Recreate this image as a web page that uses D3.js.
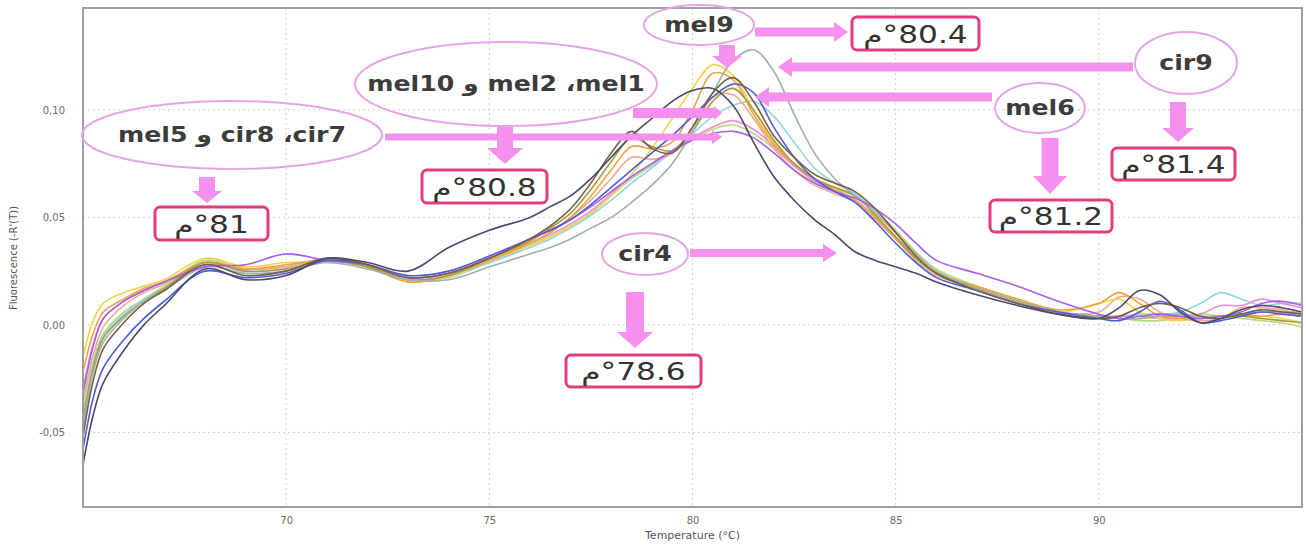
<!DOCTYPE html>
<html>
<head>
<meta charset="utf-8">
<script src="https://cdn.jsdelivr.net/npm/d3@7/dist/d3.min.js"></script>
<style>
  html, body { margin: 0; padding: 0; background: #fff; }
  svg { display: block; }
</style>
</head>
<body>
<svg id="chart" width="1306" height="547"></svg>
<script>
// Melt-curve derivative data: temperature grid (°C) and -R'(T) per sample
const temps = [65, 65.25, 65.5, 66, 66.5, 67, 68, 69, 70, 71, 72, 73, 74, 75, 76, 76.5, 77, 77.5, 78, 78.5, 79, 79.5, 80, 80.5, 81, 81.5, 82, 82.5, 83, 83.5, 84, 84.5, 85, 85.5, 86, 87, 88, 89, 90, 90.5, 91, 91.5, 92, 92.5, 93, 93.5, 94, 94.5, 95];

const lightgreenSeries = [-0.040, -0.017, -0.004, 0.006, 0.012, 0.018,
  0.030, 0.026, 0.027, 0.030, 0.027, 0.021, 0.022, 0.029,
  0.037, 0.041, 0.046, 0.052, 0.060, 0.068, 0.074, 0.080, 0.086, 0.091, 0.093, 0.089, 0.082, 0.074, 0.067, 0.063, 0.060, 0.053, 0.044, 0.034, 0.026,
  0.018, 0.012, 0.006, 0.004, 0.003, 0.002, 0.002, 0.003, 0.005, 0.004, 0.003, 0.002, 0.001, -0.001];
const cyanSeries = [-0.044, -0.019, -0.005, 0.005, 0.012, 0.017,
  0.028, 0.025, 0.026, 0.030, 0.027, 0.022, 0.023, 0.029,
  0.036, 0.040, 0.045, 0.051, 0.058, 0.066, 0.073, 0.081, 0.089, 0.097, 0.102, 0.104, 0.097, 0.085, 0.073, 0.066, 0.061, 0.053, 0.043, 0.033, 0.025,
  0.017, 0.011, 0.006, 0.004, 0.004, 0.005, 0.005, 0.006, 0.010, 0.015, 0.012, 0.009, 0.010, 0.010];
const pinkSeries = [-0.030, -0.009, 0.003, 0.011, 0.016, 0.020,
  0.028, 0.026, 0.027, 0.031, 0.028, 0.022, 0.024, 0.031,
  0.038, 0.042, 0.047, 0.053, 0.061, 0.069, 0.075, 0.081, 0.087, 0.092, 0.095, 0.091, 0.083, 0.074, 0.067, 0.062, 0.058, 0.050, 0.041, 0.031, 0.024,
  0.017, 0.011, 0.006, 0.004, 0.004, 0.004, 0.003, 0.003, 0.005, 0.009, 0.009, 0.012, 0.010, 0.008];
const salmonSeries = [-0.036, -0.014, -0.001, 0.009, 0.015, 0.019,
  0.029, 0.026, 0.027, 0.031, 0.028, 0.021, 0.023, 0.030,
  0.038, 0.043, 0.050, 0.058, 0.068, 0.078, 0.077, 0.080, 0.092, 0.106, 0.107, 0.096, 0.082, 0.072, 0.065, 0.061, 0.057, 0.049, 0.040, 0.030, 0.023,
  0.017, 0.011, 0.006, 0.006, 0.013, 0.012, 0.006, 0.003, 0.002, 0.003, 0.008, 0.008, 0.007, 0.005];
const yellowSeries = [-0.015, 0.002, 0.010, 0.015, 0.018, 0.021,
  0.031, 0.027, 0.029, 0.029, 0.027, 0.020, 0.023, 0.030,
  0.037, 0.041, 0.046, 0.052, 0.060, 0.070, 0.082, 0.096, 0.110, 0.121, 0.116, 0.100, 0.085, 0.075, 0.068, 0.064, 0.060, 0.052, 0.043, 0.033, 0.025,
  0.017, 0.011, 0.006, 0.010, 0.012, 0.006, 0.003, 0.002, 0.003, 0.004, 0.004, 0.004, 0.003, 0.001];
const orangeSeries = [-0.022, -0.004, 0.006, 0.012, 0.017, 0.020,
  0.029, 0.026, 0.028, 0.030, 0.027, 0.020, 0.023, 0.030,
  0.038, 0.043, 0.050, 0.060, 0.072, 0.083, 0.082, 0.085, 0.100, 0.117, 0.114, 0.098, 0.084, 0.075, 0.068, 0.063, 0.058, 0.050, 0.040, 0.031, 0.024,
  0.018, 0.012, 0.007, 0.010, 0.015, 0.010, 0.004, 0.003, 0.003, 0.004, 0.005, 0.004, 0.005, 0.004];
const oliveSeries = [-0.045, -0.020, -0.006, 0.004, 0.011, 0.017,
  0.029, 0.025, 0.026, 0.030, 0.027, 0.021, 0.023, 0.031,
  0.039, 0.045, 0.052, 0.063, 0.076, 0.087, 0.083, 0.081, 0.090, 0.104, 0.110, 0.100, 0.086, 0.075, 0.068, 0.064, 0.060, 0.051, 0.041, 0.031, 0.024,
  0.017, 0.011, 0.006, 0.004, 0.003, 0.003, 0.004, 0.004, 0.003, 0.004, 0.004, 0.003, 0.002, 0.001];
const graygreenSeries = [-0.048, -0.022, -0.008, 0.003, 0.011, 0.016,
  0.027, 0.024, 0.025, 0.029, 0.026, 0.021, 0.021, 0.027,
  0.033, 0.036, 0.040, 0.045, 0.050, 0.057, 0.065, 0.075, 0.090, 0.108, 0.123, 0.128, 0.118, 0.098, 0.080, 0.068, 0.060, 0.052, 0.043, 0.033, 0.025,
  0.017, 0.011, 0.006, 0.004, 0.003, 0.003, 0.004, 0.005, 0.004, 0.004, 0.005, 0.006, 0.006, 0.006];
const purpleSeries = [-0.032, -0.010, 0.003, 0.011, 0.016, 0.020,
  0.027, 0.028, 0.033, 0.030, 0.028, 0.022, 0.024, 0.031,
  0.040, 0.044, 0.049, 0.055, 0.062, 0.069, 0.075, 0.081, 0.086, 0.089, 0.090, 0.087, 0.080, 0.072, 0.066, 0.062, 0.059, 0.054, 0.047, 0.038, 0.030,
  0.024, 0.018, 0.011, 0.005, 0.003, 0.004, 0.005, 0.004, 0.003, 0.004, 0.006, 0.010, 0.011, 0.009];
const blueSeries = [-0.058, -0.034, -0.020, -0.007, 0.003, 0.011,
  0.025, 0.022, 0.024, 0.030, 0.028, 0.023, 0.025, 0.032,
  0.040, 0.044, 0.049, 0.056, 0.064, 0.072, 0.080, 0.088, 0.097, 0.106, 0.112, 0.108, 0.092, 0.078, 0.068, 0.062, 0.057, 0.048, 0.038, 0.029, 0.022,
  0.016, 0.010, 0.006, 0.003, 0.002, 0.006, 0.011, 0.007, 0.001, 0.002, 0.004, 0.006, 0.005, 0.004];
const brownSeries = [-0.052, -0.026, -0.011, 0.001, 0.010, 0.016,
  0.028, 0.023, 0.025, 0.031, 0.028, 0.022, 0.024, 0.031,
  0.040, 0.046, 0.054, 0.066, 0.080, 0.090, 0.082, 0.080, 0.092, 0.108, 0.115, 0.104, 0.088, 0.078, 0.070, 0.066, 0.062, 0.054, 0.043, 0.032, 0.024,
  0.016, 0.010, 0.005, 0.003, 0.004, 0.008, 0.010, 0.008, 0.004, 0.003, 0.005, 0.007, 0.006, 0.005];
const navySeries = [-0.065, -0.042, -0.027, -0.012, 0.000, 0.009,
  0.026, 0.021, 0.023, 0.031, 0.029, 0.025, 0.036, 0.044,
  0.050, 0.055, 0.060, 0.068, 0.078, 0.088, 0.096, 0.104, 0.109, 0.110, 0.102, 0.085, 0.069, 0.058, 0.049, 0.042, 0.034, 0.030, 0.027, 0.024, 0.020,
  0.014, 0.009, 0.005, 0.003, 0.008, 0.016, 0.014, 0.006, 0.001, 0.003, 0.007, 0.009, 0.008, 0.006];

// Axis ticks
const xTicks = [70, 75, 80, 85, 90];
const yTicks = [-0.05, 0.00, 0.05, 0.10];

// Sample groups and their melting temperatures (°C); RLM keeps the Arabic comma and
// the degree sign attached to the right-to-left run
const RLM = "\u200F";
const groupLabels = ["cir7" + RLM + "، cir8 و mel5", "mel1" + RLM + "، mel2 و mel10", "mel9", "cir9", "mel6", "cir4"];
const tmValues = [81, 80.8, 80.4, 81.4, 81.2, 78.6];

const seriesList = [
  { values: lightgreenSeries, color: "#b6dc80" },
  { values: cyanSeries, color: "#92d4e4" },
  { values: pinkSeries, color: "#f08cd6" },
  { values: salmonSeries, color: "#f2a98e" },
  { values: yellowSeries, color: "#f0d24c" },
  { values: orangeSeries, color: "#f0a33e" },
  { values: oliveSeries, color: "#a89c40" },
  { values: graygreenSeries, color: "#9fb1a8" },
  { values: purpleSeries, color: "#a65ef0" },
  { values: blueSeries, color: "#4c5ed6" },
  { values: brownSeries, color: "#7a5d45" },
  { values: navySeries, color: "#474b6e" }
];

const svg = d3.select("#chart");
const plot = { left: 83, top: 8, right: 1302, bottom: 507 };

const x = d3.scaleLinear().domain([65, 95]).range([plot.left, plot.right]);
const y = d3.scaleLinear().domain([-0.0847, 0.1474]).range([plot.bottom, plot.top]);

svg.append("defs").append("clipPath").attr("id", "plotClip")
  .append("rect")
  .attr("x", plot.left).attr("y", plot.top)
  .attr("width", plot.right - plot.left).attr("height", plot.bottom - plot.top);

// Grid lines
const grid = svg.append("g").attr("class", "grid");
grid.selectAll("line.vx").data(xTicks).join("line")
  .attr("x1", d => x(d)).attr("x2", d => x(d))
  .attr("y1", plot.top).attr("y2", plot.bottom)
  .attr("stroke", "#cfcfcf").attr("stroke-width", 1).attr("stroke-dasharray", "2,3");
grid.selectAll("line.hy").data(yTicks).join("line")
  .attr("x1", plot.left).attr("x2", plot.right)
  .attr("y1", d => y(d)).attr("y2", d => y(d))
  .attr("stroke", "#cfcfcf").attr("stroke-width", 1).attr("stroke-dasharray", "2,3");

// Axes (labels only, frame drawn separately)
const fmt = v => d3.format(".2f")(v).replace(".", ",").replace("\u2212", "-");
const xAxis = d3.axisBottom(x).tickValues(xTicks).tickSize(0).tickPadding(10).tickFormat(d3.format("d"));
const yAxis = d3.axisLeft(y).tickValues(yTicks).tickSize(0).tickPadding(18).tickFormat(fmt);

const gx = svg.append("g").attr("transform", `translate(0,${plot.bottom})`).call(xAxis);
const gy = svg.append("g").attr("transform", `translate(${plot.left},0)`).call(yAxis);
[gx, gy].forEach(g => {
  g.select(".domain").remove();
  g.selectAll("text").attr("fill", "#6a6a6a").attr("font-size", 10)
    .attr("font-family", "'DejaVu Sans', sans-serif");
});

// Curves
const line = d3.line()
  .x((d, i) => x(temps[i]))
  .y(d => y(d))
  .curve(d3.curveCatmullRom.alpha(0.5));

svg.append("g").attr("clip-path", "url(#plotClip)")
  .selectAll("path").data(seriesList).join("path")
  .attr("d", s => line(s.values))
  .attr("fill", "none")
  .attr("stroke", s => s.color)
  .attr("stroke-width", 1.6)
  .attr("stroke-linejoin", "round");

// Frame
svg.append("rect")
  .attr("x", plot.left).attr("y", plot.top)
  .attr("width", plot.right - plot.left).attr("height", plot.bottom - plot.top)
  .attr("fill", "none").attr("stroke", "#a0a0a0").attr("stroke-width", 2);

// Axis titles
svg.append("text")
  .attr("x", x(80)).attr("y", 539)
  .attr("text-anchor", "middle")
  .attr("font-family", "'DejaVu Sans', sans-serif").attr("font-size", 11)
  .attr("fill", "#555")
  .text("Temperature (°C)");
svg.append("text")
  .attr("transform", "translate(17,258) rotate(-90)")
  .attr("text-anchor", "middle")
  .attr("font-family", "'DejaVu Sans', sans-serif").attr("font-size", 10)
  .attr("fill", "#555")
  .text("Fluorescence (-R'(T))");

// Annotation layer
const ann = svg.append("g").attr("class", "annotations");
const arrowColor = "#f590ee";

function fatArrow(x1, y1, x2, y2, w, hw, hl) {
  const dx = x2 - x1, dy = y2 - y1;
  const len = Math.hypot(dx, dy);
  const ux = dx / len, uy = dy / len;
  const px = -uy, py = ux;
  const bx = x2 - ux * hl, by = y2 - uy * hl;
  const pts = [
    [x1 + px * w / 2, y1 + py * w / 2],
    [bx + px * w / 2, by + py * w / 2],
    [bx + px * hw / 2, by + py * hw / 2],
    [x2, y2],
    [bx - px * hw / 2, by - py * hw / 2],
    [bx - px * w / 2, by - py * w / 2],
    [x1 - px * w / 2, y1 - py * w / 2]
  ];
  ann.append("polygon")
    .attr("points", pts.map(p => p.join(",")).join(" "))
    .attr("fill", arrowColor);
}

// group ellipses: [cx, cy, rx, ry]
const ellipses = [
  [232, 135, 150, 34],
  [506, 84, 151, 42],
  [699, 25, 55, 20],
  [1186, 63, 51, 31],
  [1040, 108, 45, 25],
  [645, 254, 43, 21]
];
// Tm boxes: [x, y, w, h]
const boxes = [
  [155, 207, 113, 33],
  [422, 170, 125, 33],
  [852, 17, 127, 33],
  [1112, 148, 123, 32],
  [990, 200, 122, 32],
  [566, 355, 135, 32]
];

// arrows: x1, y1, x2, y2, shaft width, head width, head length
fatArrow(385, 137, 722, 137, 7, 14, 10);
fatArrow(207, 177, 207, 203, 16, 30, 12);
fatArrow(633, 113, 722, 113, 10, 14, 8);
fatArrow(505, 127, 505, 164, 16, 36, 16);
fatArrow(755, 32, 848, 32, 9, 20, 14);
fatArrow(727, 45, 727, 68, 16, 30, 12);
fatArrow(1133, 67, 778, 67, 9, 20, 14);
fatArrow(1178, 102, 1178, 142, 16, 32, 14);
fatArrow(992, 97, 755, 97, 9, 20, 14);
fatArrow(1050, 138, 1050, 194, 17, 34, 18);
fatArrow(690, 253, 837, 253, 8, 18, 14);
fatArrow(635, 292, 635, 348, 18, 36, 16);

ann.selectAll("ellipse").data(ellipses).join("ellipse")
  .attr("cx", d => d[0]).attr("cy", d => d[1])
  .attr("rx", d => d[2]).attr("ry", d => d[3])
  .attr("fill", "none").attr("stroke", "#e7a3e7").attr("stroke-width", 2);

ann.selectAll("text.group").data(groupLabels).join("text")
  .attr("class", "group")
  .attr("transform", (d, i) => `translate(${ellipses[i][0]},${ellipses[i][1] + 7}) scale(1.2,1)`)
  .attr("text-anchor", "middle")
  .attr("direction", "rtl")
  .attr("font-family", "'DejaVu Sans', sans-serif")
  .attr("font-weight", "bold")
  .attr("font-size", 21)
  .attr("fill", "#3c3c3c")
  .text(d => d);

ann.selectAll("rect.tm").data(boxes).join("rect")
  .attr("class", "tm")
  .attr("x", d => d[0]).attr("y", d => d[1])
  .attr("width", d => d[2]).attr("height", d => d[3])
  .attr("rx", 5)
  .attr("fill", "#fff").attr("stroke", "#e23c7d").attr("stroke-width", 3);

ann.selectAll("text.tm").data(tmValues).join("text")
  .attr("class", "tm")
  .attr("transform", (d, i) => `translate(${boxes[i][0] + boxes[i][2] / 2},${boxes[i][1] + boxes[i][3] / 2 + 9}) scale(1.3,1)`)
  .attr("text-anchor", "middle")
  .attr("direction", "rtl")
  .attr("font-family", "'DejaVu Sans', sans-serif")
  .attr("font-size", 24)
  .attr("fill", "#333")
  .text(d => `${d}${RLM}°م`);
</script>
</body>
</html>
